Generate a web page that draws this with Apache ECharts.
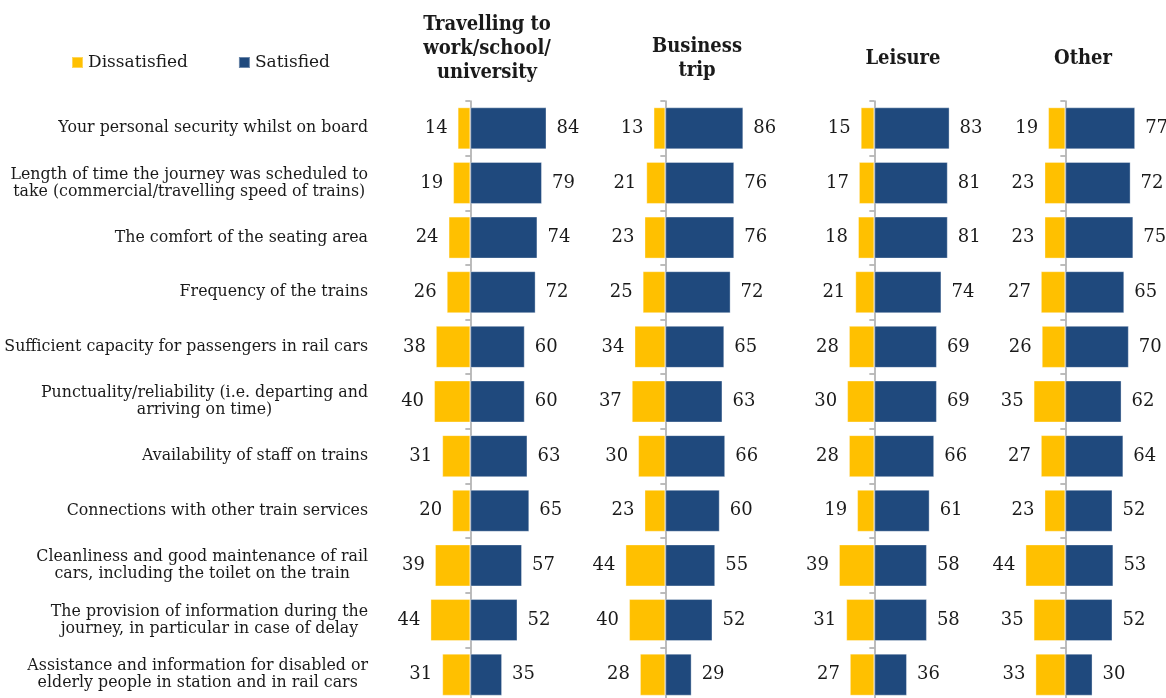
<!DOCTYPE html>
<html>
<head>
<meta charset="utf-8">
<script src="https://cdn.jsdelivr.net/npm/echarts@6/dist/echarts.min.js"></script>
<style>
  html, body { margin: 0; padding: 0; background: #fff; }
  #main { width: 1166px; height: 698px; }
</style>
</head>
<body>
<div id="main"></div>
<script>
var categories = [
    'Your personal security whilst on board',
    'Length of time the journey was scheduled to\ntake (commercial/travelling speed of trains)',
    'The comfort of the seating area',
    'Frequency of the trains',
    'Sufficient capacity for passengers in rail cars',
    'Punctuality/reliability (i.e. departing and\narriving on time)',
    'Availability of staff on trains',
    'Connections with other train services',
    'Cleanliness and good maintenance of rail\ncars, including the toilet on the train',
    'The provision of information during the\njourney, in particular in case of delay',
    'Assistance and information for disabled or\nelderly people in station and in rail cars'
];

var panelTitles = ['Travelling to\nwork/school/\nuniversity', 'Business\ntrip', 'Leisure', 'Other'];

// dissatisfied / satisfied per panel
var commuteDis = [14, 19, 24, 26, 38, 40, 31, 20, 39, 44, 31];
var commuteSat = [84, 79, 74, 72, 60, 60, 63, 65, 57, 52, 35];
var businessDis = [13, 21, 23, 25, 34, 37, 30, 23, 44, 40, 28];
var businessSat = [86, 76, 76, 72, 65, 63, 66, 60, 55, 52, 29];
var leisureDis = [15, 17, 18, 21, 28, 30, 28, 19, 39, 31, 27];
var leisureSat = [83, 81, 81, 74, 69, 69, 66, 61, 58, 58, 36];
var otherDis = [19, 23, 23, 27, 26, 35, 27, 23, 44, 35, 33];
var otherSat = [77, 72, 75, 65, 70, 62, 64, 52, 53, 52, 30];

var disData = [commuteDis, businessDis, leisureDis, otherDis];
var satData = [commuteSat, businessSat, leisureSat, otherSat];

var serif = '"DejaVu Serif", Georgia, serif';
var textColor = '#1a1a1a';
var yellow = '#FFC000';
var blue = '#1F497D';

// layout of each panel: left edge of grid (zero line sits 50 units in)
var gridLefts = [425, 620, 829, 1020];
var titleX = [487, 697, 903, 1083];
var titleTop = [13, 35, 47, 47];

var chart = echarts.init(document.getElementById('main'));

var grids = [], xAxes = [], yAxes = [], series = [], titles = [];

for (var i = 0; i < 4; i++) {
    grids.push({ left: gridLefts[i], width: 136, top: 101, bottom: -4, containLabel: false, outerBoundsMode: 'none' });
    xAxes.push({ type: 'value', gridIndex: i, min: -50, max: 100, show: false });
    yAxes.push({
        type: 'category',
        gridIndex: i,
        data: categories,
        inverse: true,
        axisLine: { show: true, onZero: true, lineStyle: { color: '#a6a6a6', width: 1.5 } },
        axisTick: { show: true, length: 5, lineStyle: { color: '#a6a6a6', width: 1.5 } },
        axisLabel: {
            show: i === 0,
            margin: 57,
            formatter: function(v) {
                return v.split('\n').map(function(s) { return '{c|' + s + '}'; }).join('\n');
            },
            rich: {
                c: { align: 'center', fontSize: 15.8, lineHeight: 17, fontFamily: serif, color: textColor }
            }
        },
        splitLine: { show: false }
    });
    series.push({
        name: 'Dissatisfied',
        type: 'bar',
        xAxisIndex: i,
        yAxisIndex: i,
        barWidth: 42,
        barGap: '-100%',
        itemStyle: { color: yellow, borderColor: 'rgba(255,255,255,0.35)', borderWidth: 1 },
        label: {
            show: true, position: 'left', distance: 10,
            fontSize: 18, fontFamily: serif, color: textColor,
            formatter: function(p) { return Math.abs(p.value); }
        },
        data: disData[i].map(function(v) { return -v; })
    });
    series.push({
        name: 'Satisfied',
        type: 'bar',
        xAxisIndex: i,
        yAxisIndex: i,
        barWidth: 42,
        barGap: '-100%',
        itemStyle: { color: blue, borderColor: 'rgba(255,255,255,0.35)', borderWidth: 1 },
        label: {
            show: true, position: 'right', distance: 10,
            fontSize: 18, fontFamily: serif, color: textColor
        },
        data: satData[i]
    });
    titles.push({
        text: panelTitles[i],
        left: titleX[i],
        top: titleTop[i],
        textAlign: 'center',
        padding: 0,
        textStyle: {
            fontFamily: '"DejaVu Serif Condensed", "Liberation Serif", serif',
            fontWeight: 'bold', fontSize: 20, lineHeight: 24, color: textColor
        }
    });
}

var option = {
    animation: false,
    backgroundColor: '#fff',
    title: titles,
    legend: {
        data: ['Dissatisfied', 'Satisfied'],
        left: 66,
        top: 49,
        icon: 'rect',
        itemWidth: 11,
        itemHeight: 11,
        itemGap: 50,
        textStyle: { fontFamily: serif, fontSize: 17, color: textColor }
    },
    grid: grids,
    xAxis: xAxes,
    yAxis: yAxes,
    series: series
};

chart.setOption(option);
</script>
</body>
</html>
